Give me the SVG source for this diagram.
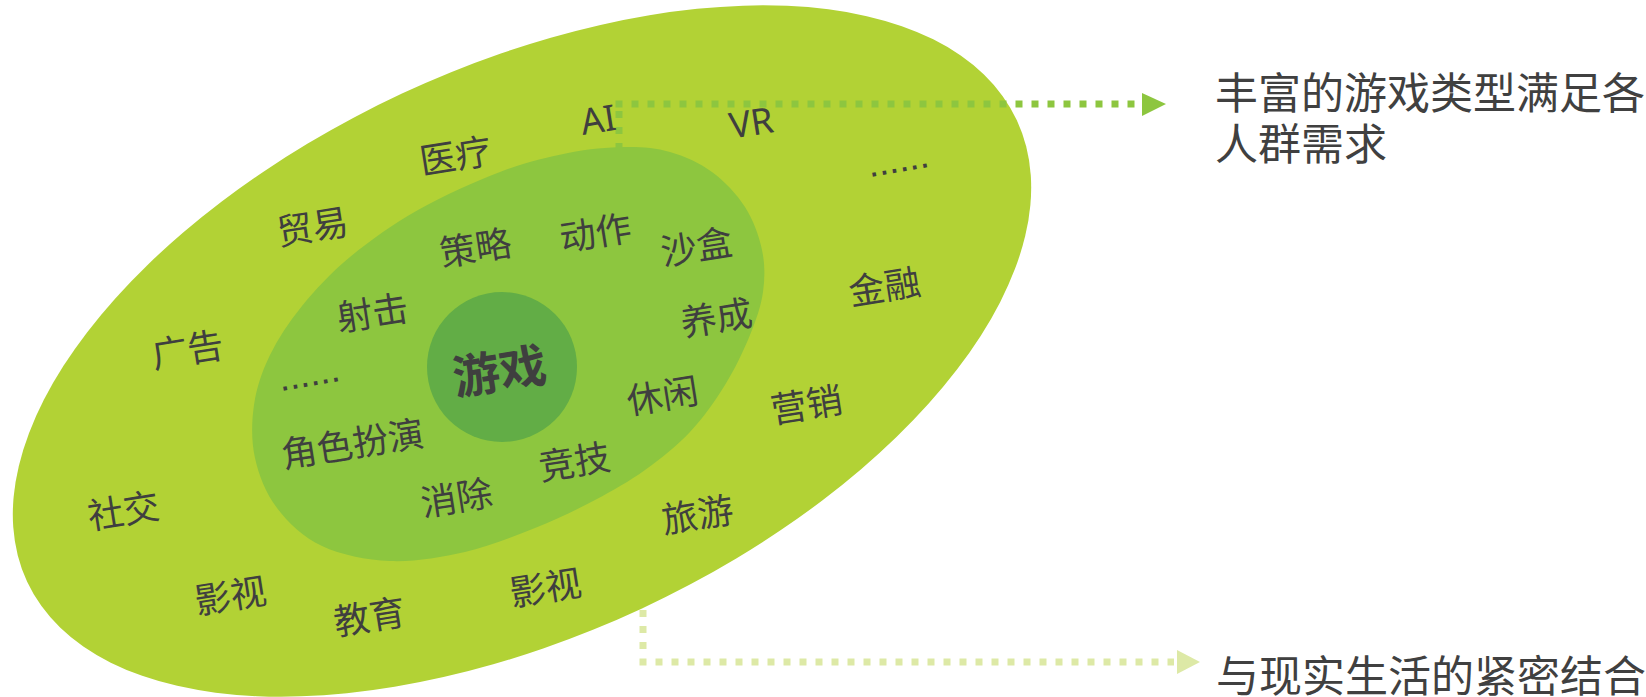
<svg xmlns="http://www.w3.org/2000/svg" width="1646" height="697" viewBox="0 0 1646 697">
<style>
.lbl{font-family:"Noto Sans CJK SC","Noto Sans",sans-serif;font-size:36px;fill:#3f3f3f;text-anchor:middle;dominant-baseline:central}
.lat{font-family:"Noto Sans","Liberation Sans",sans-serif;font-size:36px;fill:#3f3f3f;text-anchor:middle;dominant-baseline:central}
.dots{font-family:"Liberation Sans",sans-serif;font-size:37px;fill:#3f3f3f;text-anchor:middle}
.core{font-family:"Noto Sans CJK SC",sans-serif;font-size:47px;font-weight:bold;fill:#3f3f3f;text-anchor:middle;dominant-baseline:central}
.side{font-family:"Noto Sans CJK SC",sans-serif;font-size:43px;fill:#404040;dominant-baseline:central}
.dotA{fill:none;stroke:#8dc63f;stroke-width:7;stroke-dasharray:7 9}
.dotB{fill:none;stroke:#dde9a6;stroke-width:7;stroke-dasharray:7 9}
</style>
<rect width="1646" height="697" fill="#ffffff"/>
<g id="outer">
<ellipse cx="522" cy="351" rx="546" ry="284" transform="rotate(-25 522 351)" fill="#b2d235"/>
</g>
<g id="inner">
<path fill="#8dc63f" d="M625,147 C642,146.8 655.5,147.8 670,152 C684.5,156.2 699.5,162.8 712,172 C724.5,181.2 736.7,194 745,207 C753.3,220 759,235.8 762,250 C765,264.2 765,277.8 763,292 C761,306.2 756.3,319.5 750,335 C743.7,350.5 735,368.8 725,385 C715,401.2 703.3,417.8 690,432 C676.7,446.2 660.8,458.7 645,470 C629.2,481.3 613.3,490.3 595,500 C576.7,509.7 556.7,519.3 535,528 C513.3,536.7 489.2,546.5 465,552 C440.8,557.5 413.8,562 390,561 C366.2,560 340.8,554.8 322,546 C303.2,537.2 288.2,522.7 277,508 C265.8,493.3 258.8,475.2 255,458 C251.2,440.8 251.5,422.2 254,405 C256.5,387.8 262,371.5 270,355 C278,338.5 288.7,322.3 302,306 C315.3,289.7 330.7,273 350,257 C369.3,241 393,224.2 418,210 C443,195.8 475,181.5 500,172 C525,162.5 547.2,157.2 568,153 C588.8,148.8 608,147.2 625,147 Z"/>
</g>
<g id="core">
<circle cx="502" cy="367" r="75" fill="#62ad46"/>
<text class="core" transform="translate(499 368) rotate(-9)">游戏</text>
</g>
<g id="connectors">
<path class="dotA" d="M619,150 V111"/>
<path class="dotA" d="M615.5,104 H1140"/>
<polygon points="1142,93 1166,104 1142,116" fill="#8dc63f"/>
<path class="dotB" d="M643,610 V652"/>
<path class="dotB" d="M639.5,662 H1174"/>
<polygon points="1177,650 1200,662 1177,674" fill="#dde9a6"/>
</g>
<g id="label-yiliao"><text class="lbl" transform="translate(455 153) rotate(-9)">医疗</text></g>
<g id="label-ai"><text class="lat" transform="translate(598 119) rotate(-9)">AI</text></g>
<g id="label-vr"><text class="lat" transform="translate(751 122) rotate(-9)">VR</text></g>
<g id="label-more-outer"><text class="dots" transform="translate(900 172) rotate(-10)">......</text></g>
<g id="label-maoyi"><text class="lbl" transform="translate(312 224) rotate(-9)">贸易</text></g>
<g id="label-celue"><text class="lbl" transform="translate(475 245) rotate(-9)">策略</text></g>
<g id="label-dongzuo"><text class="lbl" transform="translate(595 230) rotate(-9)">动作</text></g>
<g id="label-shahe"><text class="lbl" transform="translate(696 244) rotate(-9)">沙盒</text></g>
<g id="label-jinrong"><text class="lbl" transform="translate(884 284) rotate(-9)">金融</text></g>
<g id="label-guanggao"><text class="lbl" transform="translate(187 347) rotate(-9)">广告</text></g>
<g id="label-sheji"><text class="lbl" transform="translate(372 310) rotate(-9)">射击</text></g>
<g id="label-yangcheng"><text class="lbl" transform="translate(716 315) rotate(-9)">养成</text></g>
<g id="label-more-inner"><text class="dots" transform="translate(311 386) rotate(-10)">......</text></g>
<g id="label-xiuxian"><text class="lbl" transform="translate(662 393) rotate(-9)">休闲</text></g>
<g id="label-yingxiao"><text class="lbl" transform="translate(806 402) rotate(-9)">营销</text></g>
<g id="label-juese"><text class="lbl" transform="translate(352 441) rotate(-9)">角色扮演</text></g>
<g id="label-jingji"><text class="lbl" transform="translate(574 459) rotate(-9)">竞技</text></g>
<g id="label-xiaochu"><text class="lbl" transform="translate(456 495) rotate(-9)">消除</text></g>
<g id="label-shejiao"><text class="lbl" transform="translate(123 508) rotate(-9)">社交</text></g>
<g id="label-lvyou"><text class="lbl" transform="translate(697 512) rotate(-9)">旅游</text></g>
<g id="label-yingshi-1"><text class="lbl" transform="translate(230 593) rotate(-9)">影视</text></g>
<g id="label-jiaoyu"><text class="lbl" transform="translate(369 614) rotate(-9)">教育</text></g>
<g id="label-yingshi-2"><text class="lbl" transform="translate(545 585) rotate(-9)">影视</text></g>
<g id="note-top">
<text class="side" x="1215" y="90">丰富的游戏类型满足各</text>
<text class="side" x="1215" y="141">人群需求</text>
</g>
<g id="note-bottom">
<text class="side" x="1216" y="673">与现实生活的紧密结合</text>
</g>
</svg>
